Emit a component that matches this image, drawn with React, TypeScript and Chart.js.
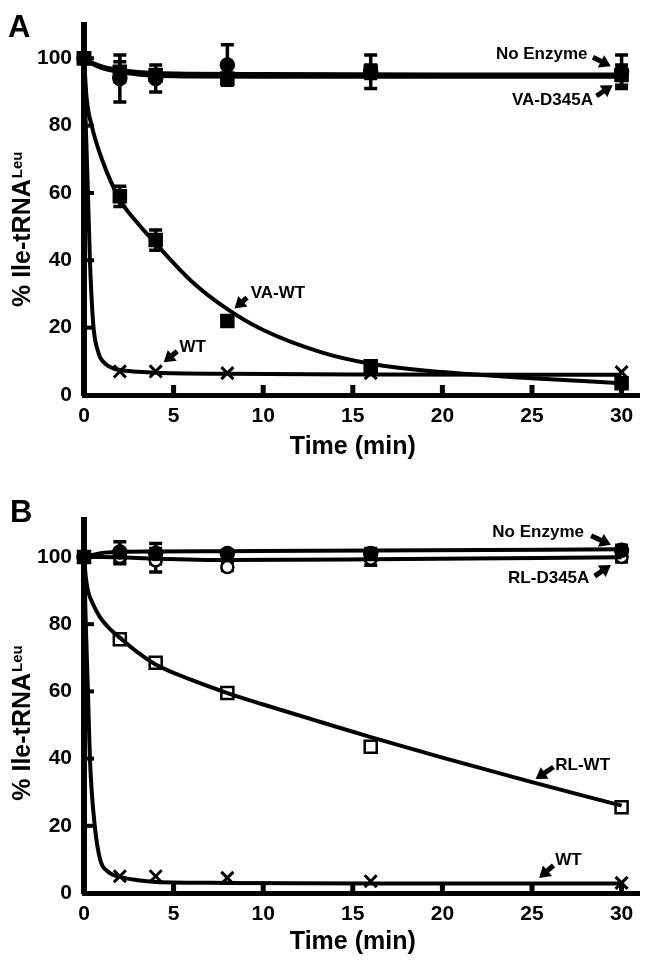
import React, { useEffect, useRef } from 'react';
import { Chart, registerables } from 'chart.js';
Chart.register(...registerables);

const FONT = '"Liberation Sans", Arial, sans-serif';

// ---- shared ----
const times = [0, 2, 4, 8, 16, 30];
const xTickValues = [0, 5, 10, 15, 20, 25, 30];
const yTickValues = [0, 20, 40, 60, 80, 100];

// ---- Panel A: measured points ----
const noEnzA = [100, 94, 94, 98, 96, 96];
const noEnzAErr = [1, 7, 4, 6, 5, 5];
const vaD345A = [100, 96, 95, 94, 96, 95];
const vaD345AErr = [1, 3, 1, 1, 2, 3];
const vaWT = [100, 59, 46, 22, 8.5, 3.5];
const vaWTErr = [1, 3, 3, 1, 1.5, 1];
const wtA = [100, 7, 7, 6.5, 6.5, 6.8];

// ---- Panel A: fitted curves ----
const fitTopA_t = [0, 0.5, 1, 2, 3, 4, 6, 10, 20, 30];
const fitNoEnzA_v = [100, 98.6, 97.6, 96.5, 95.9, 95.6, 95.4, 95.3, 95.2, 95.2];
const fitVaD345A_v = [100, 98.2, 97.1, 95.9, 95.2, 94.8, 94.6, 94.5, 94.5, 94.5];
const fitVaWT_t = [0, 0.15, 0.43, 1, 2, 3, 4, 6, 8, 10, 13.3, 16, 20, 25, 30];
const fitVaWT_v = [100, 88, 80, 70, 58, 51, 45, 33.8, 25.5, 19.3, 12.6, 9.3, 6.8, 5, 3.5];
const fitWtA_t = [0, 0.1, 0.22, 0.33, 0.5, 0.6, 0.75, 0.9, 1.2, 1.6, 2, 3, 4, 8, 16, 30];
const fitWtA_v = [100, 80, 60, 40, 22, 17, 13.5, 11.2, 9.2, 8, 7.4, 6.9, 6.6, 6.3, 6.1, 6];

// ---- Panel B: measured points ----
const noEnzB = [100, 101.5, 101, 101, 101, 102];
const noEnzBErr = [1, 3, 3, 1, 1.5, 1.5];
const rlD345A = [100, 100, 99, 97, 99.5, 100];
const rlD345AErr = [1, 2, 3.5, 1, 2, 1.5];
const rlWT = [100, 75.5, 68.5, 59.5, 43.5, 25.5];
const wtB = [100, 5, 5, 4.5, 3.5, 3];

// ---- Panel B: fitted curves ----
const fitTopB_t = [0, 1, 2, 4, 8, 16, 30];
const fitNoEnzB_v = [100, 101.2, 101.5, 101.6, 101.7, 101.9, 102.3];
const fitRlD345A_v = [100, 100, 99.9, 99.5, 99.1, 99.3, 99.9];
const fitRlWT_t = [0, 0.1, 0.22, 0.5, 0.9, 1.4, 2, 3, 4, 6, 8, 10, 13, 16, 20, 25, 30];
const fitRlWT_v = [100, 94, 90, 86, 82, 78.8, 76, 71.6, 68, 63.4, 59.5, 56.1, 51.2, 46.4, 40.3, 33, 26];
const fitWtB_t = [0, 0.1, 0.22, 0.33, 0.6, 0.9, 1.3, 2, 3, 4, 8, 16, 30];
const fitWtB_v = [100, 80, 60, 40, 20, 10, 6.5, 4.8, 3.8, 3.3, 3, 2.8, 2.8];

// ---- labels ----
const xTitle = 'Time (min)';
const yTitleMain = '% Ile-tRNA';
const yTitleSup = 'Leu';

// annotations: [text, textT, textV, align, arrowFromT, arrowFromV, arrowToT, arrowToV]
const annotA: [string, number, number, CanvasTextAlign, number, number, number, number][] = [
  ['No Enzyme', 28.1, 101.2, 'right', 28.4, 100.3, 29.4, 97.6],
  ['VA-D345A', 28.4, 87.6, 'right', 28.6, 88.8, 29.5, 92],
  ['VA-WT', 9.3, 30.1, 'left', 9.1, 28.9, 8.4, 25.7],
  ['WT', 5.33, 14.2, 'left', 5.2, 13, 4.45, 9.7],
];
const annotB: [string, number, number, CanvasTextAlign, number, number, number, number][] = [
  ['No Enzyme', 27.9, 107.4, 'right', 28.3, 106.3, 29.4, 103.6],
  ['RL-D345A', 28.2, 93.5, 'right', 28.5, 94.3, 29.4, 97.6],
  ['RL-WT', 26.3, 38.1, 'left', 26.2, 37.5, 25.2, 33.9],
  ['WT', 26.3, 9.8, 'left', 26.2, 8.2, 25.4, 4.5],
];

const pts = (t: number[], v: number[]) => t.map((x, i) => ({ x, y: v[i] }));

function fitDs(t: number[], v: number[]) {
  return {
    data: pts(t, v),
    borderColor: '#000',
    borderWidth: 4,
    pointRadius: 0,
    cubicInterpolationMode: 'monotone',
    fill: false,
    clip: false,
  };
}
function markDs(v: number[], style: string, filled: boolean, radius: number) {
  return {
    data: pts(times, v),
    showLine: false,
    pointStyle: style,
    pointRadius: radius,
    pointBorderWidth: style === 'crossRot' ? 3 : 2.5,
    pointBorderColor: '#000',
    pointBackgroundColor: filled ? '#000' : '#fff',
    clip: false,
  };
}

interface PanelCfg {
  letter: string;
  letterX: number;
  letterY: number;
  yMax: number;
  padTop: number;
  xHeight: number;
  xTitleY: number;
  yTitleShift: number;
  errors: { v: number[]; e: number[] }[];
  annots: [string, number, number, CanvasTextAlign, number, number, number, number][];
}

function makePlugin(cfg: PanelCfg) {
  return {
    id: 'panelDecor' + cfg.letter,
    beforeDatasetsDraw(chart: any) {
      const ctx = chart.ctx;
      const xs = chart.scales.x;
      const ys = chart.scales.y;
      ctx.save();
      ctx.strokeStyle = '#000';
      ctx.lineWidth = 3.5;
      cfg.errors.forEach(({ v, e }) => {
        v.forEach((val, i) => {
          const err = e[i];
          if (!err) return;
          const px = xs.getPixelForValue(times[i]);
          const top = ys.getPixelForValue(val + err);
          const bot = ys.getPixelForValue(val - err);
          ctx.beginPath();
          ctx.moveTo(px, top);
          ctx.lineTo(px, bot);
          ctx.moveTo(px - 6.5, top);
          ctx.lineTo(px + 6.5, top);
          ctx.moveTo(px - 6.5, bot);
          ctx.lineTo(px + 6.5, bot);
          ctx.stroke();
        });
      });
      ctx.restore();
    },
    afterDraw(chart: any) {
      const ctx = chart.ctx;
      const xs = chart.scales.x;
      const ys = chart.scales.y;
      const ca = chart.chartArea;
      ctx.save();
      ctx.fillStyle = '#000';
      // inward tick marks
      xTickValues.forEach((t) => {
        if (t === 0) return;
        const px = xs.getPixelForValue(t);
        ctx.fillRect(px - 2.5, ca.bottom - 10, 5, 10);
      });
      yTickValues.forEach((v) => {
        if (v === 0) return;
        const py = ys.getPixelForValue(v);
        ctx.fillRect(ca.left, py - 2, 10, 4);
      });
      // annotations
      ctx.strokeStyle = '#000';
      cfg.annots.forEach(([text, tt, tv, align, ft, fv, at, av]) => {
        ctx.font = `bold 17px ${FONT}`;
        ctx.textAlign = align;
        ctx.textBaseline = 'middle';
        ctx.fillText(text, xs.getPixelForValue(tt), ys.getPixelForValue(tv));
        const x0 = xs.getPixelForValue(ft), y0 = ys.getPixelForValue(fv);
        const x1 = xs.getPixelForValue(at), y1 = ys.getPixelForValue(av);
        const ang = Math.atan2(y1 - y0, x1 - x0);
        const hl = 11, hw = 7;
        const bx = x1 - hl * Math.cos(ang), by = y1 - hl * Math.sin(ang);
        ctx.lineWidth = 5;
        ctx.beginPath();
        ctx.moveTo(x0, y0);
        ctx.lineTo(bx + 1.5 * Math.cos(ang), by + 1.5 * Math.sin(ang));
        ctx.stroke();
        ctx.beginPath();
        ctx.moveTo(x1, y1);
        ctx.lineTo(bx + hw * Math.sin(ang), by - hw * Math.cos(ang));
        ctx.lineTo(bx - hw * Math.sin(ang), by + hw * Math.cos(ang));
        ctx.closePath();
        ctx.fill();
      });
      // x title
      ctx.font = `bold 25px ${FONT}`;
      ctx.textAlign = 'center';
      ctx.textBaseline = 'middle';
      ctx.fillText(xTitle, xs.getPixelForValue(15), ca.bottom + cfg.xTitleY);
      // y title with superscript
      ctx.save();
      const mainFont = `bold 25px ${FONT}`;
      const supFont = `bold 15px ${FONT}`;
      ctx.font = mainFont;
      const wMain = ctx.measureText(yTitleMain).width;
      ctx.font = supFont;
      const wSup = ctx.measureText(yTitleSup).width;
      const cy = (ca.top + ca.bottom) / 2 + cfg.yTitleShift;
      ctx.translate(23, cy);
      ctx.rotate(-Math.PI / 2);
      const start = -(wMain + wSup) / 2;
      ctx.textAlign = 'left';
      ctx.textBaseline = 'middle';
      ctx.font = mainFont;
      ctx.fillText(yTitleMain, start, 0);
      ctx.font = supFont;
      ctx.fillText(yTitleSup, start + wMain + 1, -5);
      ctx.restore();
      // panel letter
      ctx.font = `bold 31px ${FONT}`;
      ctx.textAlign = 'left';
      ctx.textBaseline = 'alphabetic';
      ctx.fillText(cfg.letter, cfg.letterX, cfg.letterY);
      ctx.restore();
    },
  };
}

function buildChart(canvas: HTMLCanvasElement, cfg: PanelCfg, datasets: any[]) {
  const tickFont = { family: FONT, size: 21, weight: 'bold' as const };
  return new Chart(canvas, {
    type: 'line',
    data: { datasets },
    plugins: [makePlugin(cfg)],
    options: {
      animation: false,
      responsive: false,
      devicePixelRatio: 1,
      layout: { padding: { top: cfg.padTop, right: 8, left: 0, bottom: 0 } },
      plugins: { legend: { display: false }, tooltip: { enabled: false } },
      scales: {
        x: {
          type: 'linear',
          min: 0,
          max: 31,
          afterBuildTicks: (s: any) => {
            s.ticks = xTickValues.map((value) => ({ value }));
          },
          afterFit: (s: any) => {
            s.height = cfg.xHeight;
          },
          grid: { display: true, drawOnChartArea: false, drawTicks: false },
          border: { display: true, color: '#000', width: 5 },
          ticks: { font: tickFont, color: '#000', padding: 9, maxRotation: 0, autoSkip: false },
        },
        y: {
          type: 'linear',
          min: 0,
          max: cfg.yMax,
          afterBuildTicks: (s: any) => {
            s.ticks = yTickValues.map((value) => ({ value }));
          },
          afterFit: (s: any) => {
            s.width = 84;
          },
          grid: { display: true, drawOnChartArea: false, drawTicks: false },
          border: { display: true, color: '#000', width: 6 },
          ticks: { font: tickFont, color: '#000', padding: 12, autoSkip: false },
        },
      },
    } as any,
  });
}

export default function App() {
  const refA = useRef<HTMLCanvasElement>(null);
  const refB = useRef<HTMLCanvasElement>(null);

  useEffect(() => {
    const cA = buildChart(
      refA.current!,
      {
        letter: 'A',
        letterX: 8,
        letterY: 37,
        yMax: 110,
        padTop: 21,
        xHeight: 87,
        xTitleY: 52,
        yTitleShift: 20,
        errors: [
          { v: noEnzA, e: noEnzAErr },
          { v: vaD345A, e: vaD345AErr },
          { v: vaWT, e: vaWTErr },
        ],
        annots: annotA,
      },
      [
        fitDs(fitTopA_t, fitNoEnzA_v),
        fitDs(fitTopA_t, fitVaD345A_v),
        fitDs(fitVaWT_t, fitVaWT_v),
        fitDs(fitWtA_t, fitWtA_v),
        markDs(noEnzA, 'circle', true, 6.5),
        markDs(vaD345A, 'rect', true, 8.5),
        markDs(vaWT, 'rect', true, 8.5),
        markDs(wtA, 'crossRot', false, 8.5),
      ]
    );
    const cB = buildChart(
      refB.current!,
      {
        letter: 'B',
        letterX: 10,
        letterY: 40,
        yMax: 111,
        padTop: 38,
        xHeight: 72,
        xTitleY: 49,
        yTitleShift: 17,
        errors: [
          { v: noEnzB, e: noEnzBErr },
          { v: rlD345A, e: rlD345AErr },
        ],
        annots: annotB,
      },
      [
        fitDs(fitTopB_t, fitNoEnzB_v),
        fitDs(fitTopB_t, fitRlD345A_v),
        fitDs(fitRlWT_t, fitRlWT_v),
        fitDs(fitWtB_t, fitWtB_v),
        markDs(noEnzB, 'circle', true, 6.5),
        markDs(rlD345A, 'circle', false, 6),
        markDs(rlWT, 'rect', false, 8.5),
        markDs(wtB, 'crossRot', false, 8.5),
      ]
    );
    return () => {
      cA.destroy();
      cB.destroy();
    };
  }, []);

  return (
    <div style={{ position: 'absolute', left: 0, top: 0, width: 651, height: 965, background: '#fff' }}>
      <canvas ref={refA} width={651} height={482} style={{ position: 'absolute', left: 0, top: 0, width: 651, height: 482 }} />
      <canvas ref={refB} width={651} height={483} style={{ position: 'absolute', left: 0, top: 482, width: 651, height: 483 }} />
    </div>
  );
}
